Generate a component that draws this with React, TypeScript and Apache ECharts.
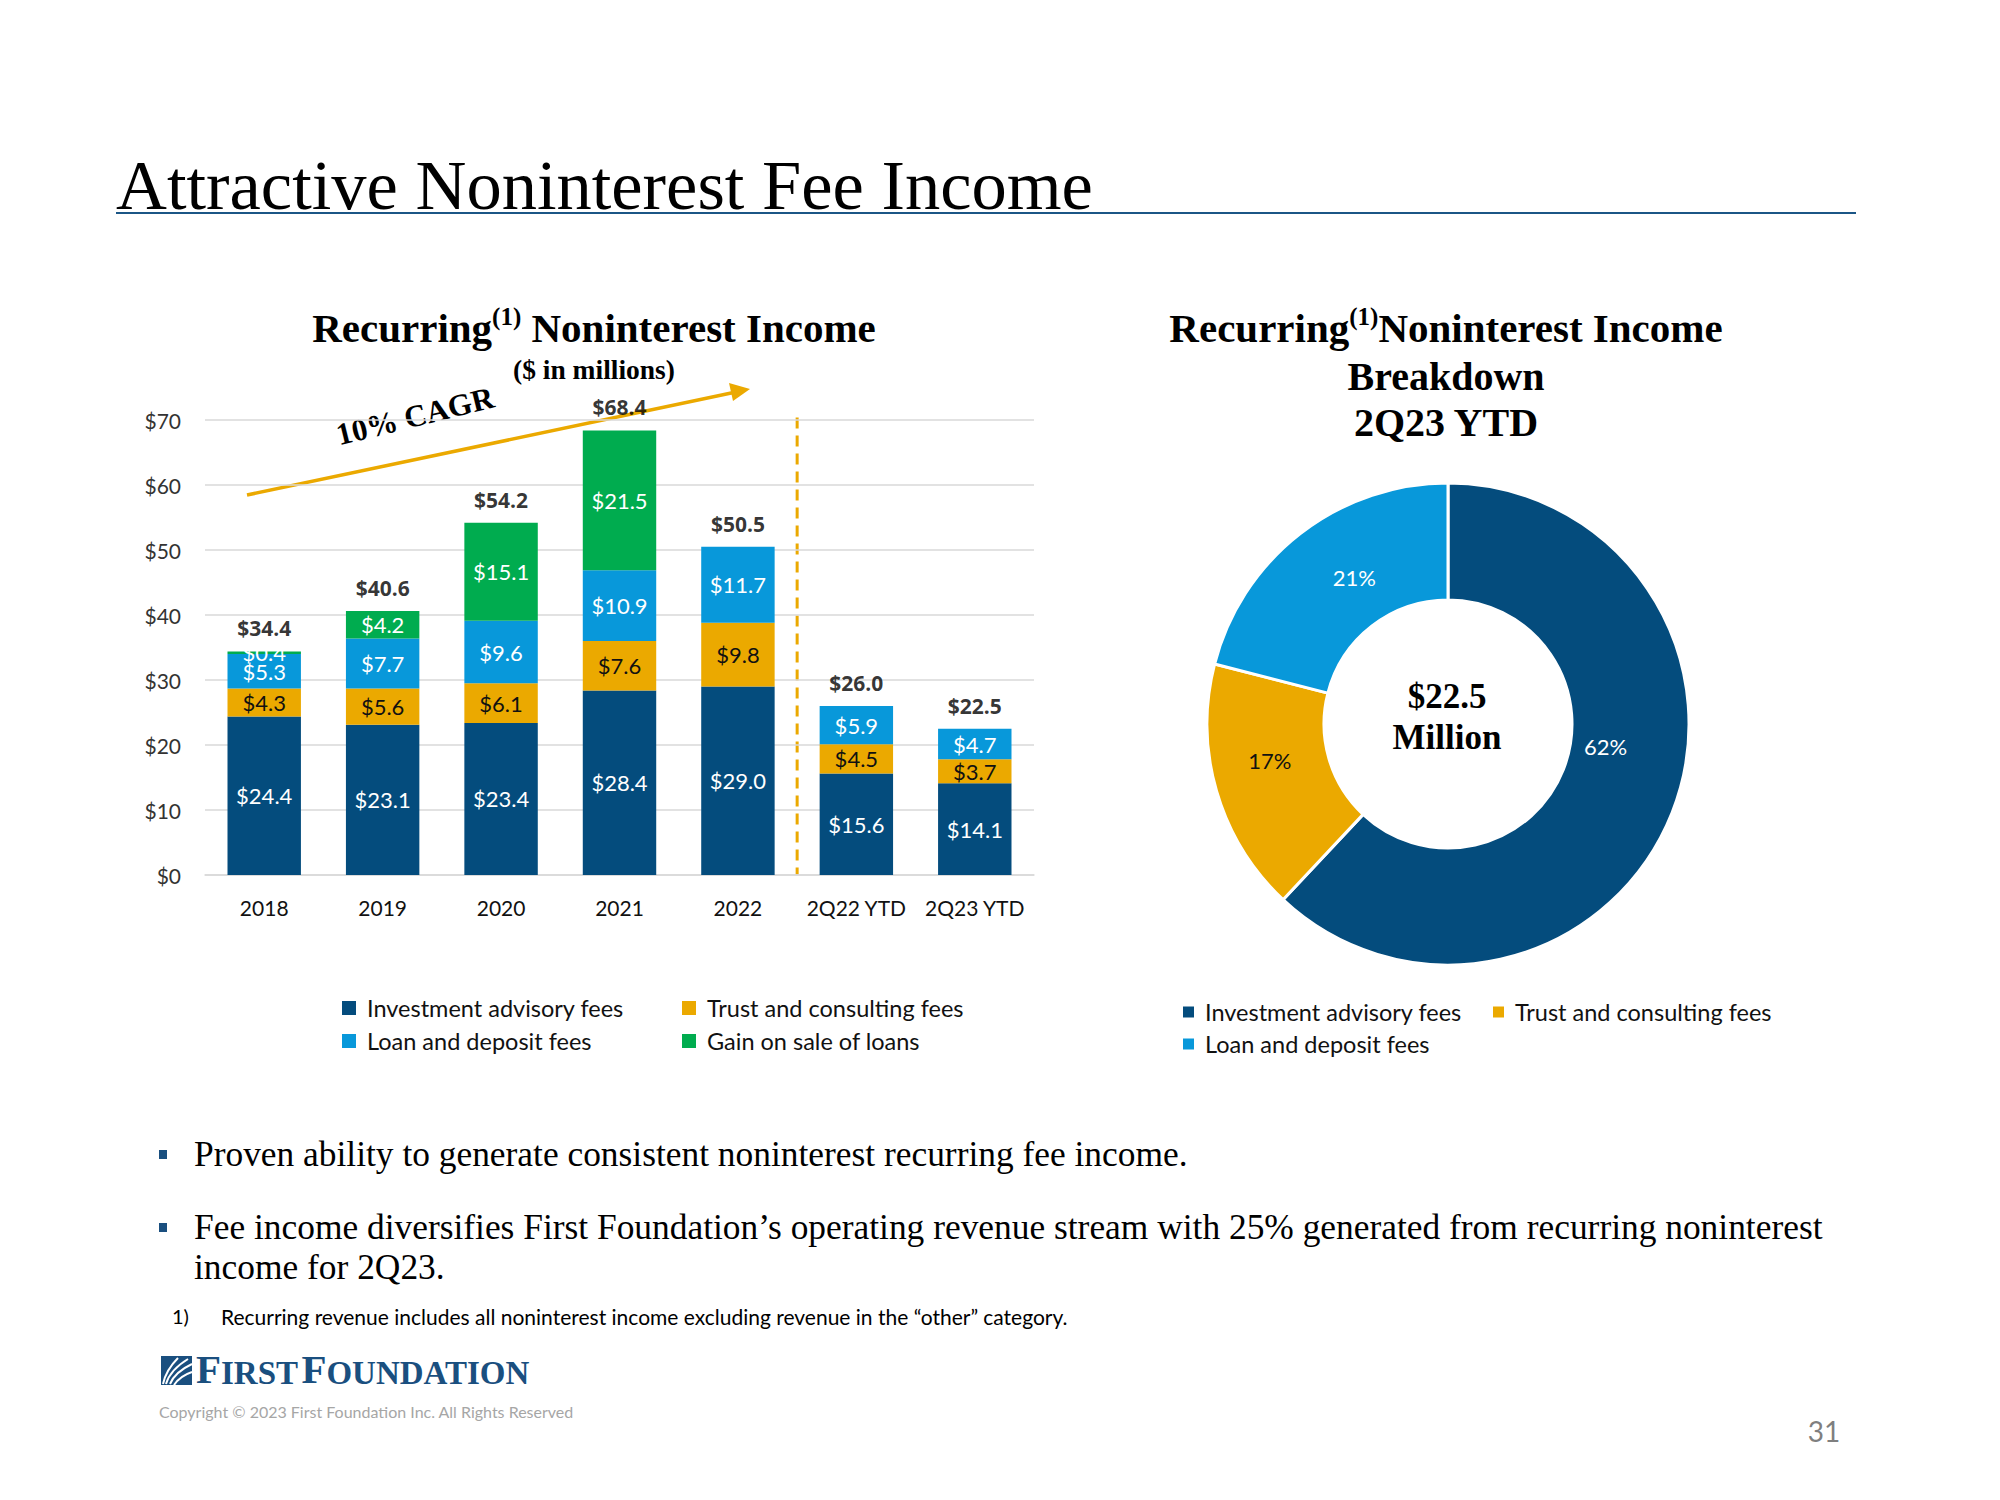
import React, { useEffect, useRef } from 'react';
import * as echarts from 'echarts';

// ---------- data ----------
const categories = ['2018', '2019', '2020', '2021', '2022', '2Q22 YTD', '2Q23 YTD'];
const investmentAdvisoryFees = [24.4, 23.1, 23.4, 28.4, 29.0, 15.6, 14.1];
const trustConsultingFees = [4.3, 5.6, 6.1, 7.6, 9.8, 4.5, 3.7];
const loanDepositFees = [5.3, 7.7, 9.6, 10.9, 11.7, 5.9, 4.7];
const gainOnSaleOfLoans = [0.4, 4.2, 15.1, 21.5, null, null, null];
const totals = [34.4, 40.6, 54.2, 68.4, 50.5, 26.0, 22.5];
const pieNames = ['Investment advisory fees', 'Trust and consulting fees', 'Loan and deposit fees'];
const pieShares = [62, 17, 21];
const pieCenterLines = ['$22.5', 'Million'];
const yMin = 0;
const yMax = 70;
const yStep = 10;

// ---------- style ----------
const C_DARK = '#044C7D';
const C_GOLD = '#EBA900';
const C_LIGHT = '#0898DA';
const C_GREEN = '#00AC4F';
const C_NAVY_TEXT = '#1A4F7F';
const SANS = 'Lato, "Open Sans", sans-serif';
const SANS_BOLD = '"Open Sans", "Noto Sans", sans-serif';
const SERIF = '"Liberation Serif", serif';

const money = (v: number) => '$' + Number(v).toFixed(1);

function buildOption() {
  const legendBase = {
    orient: 'horizontal',
    icon: 'rect',
    itemWidth: 14,
    itemHeight: 14,
    selectedMode: false,
    textStyle: { fontFamily: SANS, fontSize: 23.5, color: '#111', padding: [0, 0, 0, 6] },
  };
  const pieLegendBase = { ...legendBase, itemWidth: 11, itemHeight: 11 };

  const barLabel = (color: string) => ({
    show: true,
    position: 'inside',
    color,
    fontFamily: SANS,
    fontSize: 22,
    formatter: (p: any) => money(p.value),
  });

  const pieLabelShift = [
    { dx: -7.5, dy: -23 },
    { dx: 0, dy: -7.5 },
    { dx: 10, dy: 0 },
  ];

  return {
    animation: false,
    backgroundColor: '#ffffff',
    grid: { left: 205, right: 966, top: 420, bottom: 625, containLabel: false },
    xAxis: {
      type: 'category',
      data: categories,
      axisLine: { show: true, lineStyle: { color: '#D9D9D9', width: 1.5 } },
      axisTick: { show: false },
      axisLabel: { interval: 0, fontFamily: SANS, fontSize: 21, color: '#111', margin: 22 },
    },
    yAxis: {
      type: 'value',
      min: yMin,
      max: yMax,
      interval: yStep,
      axisLine: { show: false },
      axisTick: { show: false },
      splitLine: { lineStyle: { color: '#D9D9D9', width: 1.5 } },
      axisLabel: { fontFamily: SANS, fontSize: 21, color: '#333', margin: 24, formatter: (v: number) => '$' + v },
    },
    legend: [
      { ...legendBase, data: ['Investment advisory fees'], left: 337, top: 991 },
      { ...legendBase, data: ['Trust and consulting fees'], left: 677, top: 991 },
      { ...legendBase, data: ['Loan and deposit fees'], left: 337, top: 1024 },
      { ...legendBase, data: ['Gain on sale of loans'], left: 677, top: 1024 },
      { ...pieLegendBase, data: [pieNames[0]], left: 1178, top: 995 },
      { ...pieLegendBase, data: [pieNames[1]], left: 1488, top: 995 },
      { ...pieLegendBase, data: [pieNames[2]], left: 1178, top: 1027 },
    ],
    series: [
      {
        name: 'Investment advisory fees',
        type: 'bar',
        stack: 'fees',
        barWidth: '62%',
        data: investmentAdvisoryFees,
        itemStyle: { color: C_DARK },
        label: barLabel('#ffffff'),
      },
      {
        name: 'Trust and consulting fees',
        type: 'bar',
        stack: 'fees',
        data: trustConsultingFees,
        itemStyle: { color: C_GOLD },
        label: barLabel('#111111'),
      },
      {
        name: 'Loan and deposit fees',
        type: 'bar',
        stack: 'fees',
        data: loanDepositFees,
        itemStyle: { color: C_LIGHT },
        label: barLabel('#ffffff'),
      },
      {
        name: 'Gain on sale of loans',
        type: 'bar',
        stack: 'fees',
        data: gainOnSaleOfLoans,
        itemStyle: { color: C_GREEN },
        label: barLabel('#ffffff'),
      },
      {
        name: 'Total',
        type: 'scatter',
        data: totals,
        symbolSize: 1,
        silent: true,
        z: 10,
        itemStyle: { color: 'rgba(0,0,0,0)' },
        label: {
          show: true,
          position: 'top',
          distance: 12,
          fontFamily: SANS_BOLD,
          fontWeight: 'bold',
          fontSize: 21,
          color: '#000',
          formatter: (p: any) => money(p.value),
        },
      },
      {
        name: 'Breakdown',
        type: 'pie',
        center: [1448, 724],
        radius: [124, 241],
        startAngle: 90,
        clockwise: true,
        silent: true,
        itemStyle: { borderColor: '#ffffff', borderWidth: 3 },
        label: {
          show: true,
          position: 'inside',
          fontFamily: SANS,
          fontSize: 22,
          formatter: (p: any) => p.value + '%',
        },
        labelLine: { show: false },
        labelLayout: (params: any) => pieLabelShift[params.dataIndex] || {},
        data: pieNames.map((n, i) => ({
          name: n,
          value: pieShares[i],
          itemStyle: { color: [C_DARK, C_GOLD, C_LIGHT][i] },
          label: { color: i === 1 ? '#111111' : '#ffffff' },
        })),
      },
    ],
    graphic: [
      // page title
      {
        id: 'title', type: 'text', x: 116, y: 185,
        style: { text: 'Attractive Noninterest Fee Income', fontFamily: SERIF, fontSize: 70.5, fill: '#000', align: 'left', verticalAlign: 'middle' },
      },
      {
        id: 'titleRule', type: 'line', shape: { x1: 116, y1: 213, x2: 1856, y2: 213 },
        style: { stroke: '#1B5686', lineWidth: 2 },
      },
      // bar chart title
      {
        id: 'barTitle', type: 'text', x: 594, y: 328,
        style: {
          text: '{m|Recurring}{s|(1)}{m| Noninterest Income}',
          align: 'center', verticalAlign: 'middle',
          rich: {
            m: { fontFamily: SERIF, fontWeight: 'bold', fontSize: 41, fill: '#000', lineHeight: 48 },
            s: { fontFamily: SERIF, fontWeight: 'bold', fontSize: 25, fill: '#000', verticalAlign: 'top', lineHeight: 26 },
          },
        },
      },
      {
        id: 'barSub', type: 'text', x: 594, y: 369,
        style: { text: '($ in millions)', fontFamily: SERIF, fontWeight: 'bold', fontSize: 27.5, fill: '#000', align: 'center', verticalAlign: 'middle' },
      },
      // CAGR arrow
      {
        id: 'cagrLine', type: 'line', shape: { x1: 247, y1: 495, x2: 736, y2: 392 },
        style: { stroke: C_GOLD, lineWidth: 3.5 },
      },
      {
        id: 'cagrHead', type: 'polygon',
        shape: { points: [[750, 389], [733, 401], [729, 383]] },
        style: { fill: C_GOLD },
      },
      {
        id: 'cagrText', type: 'text', x: 415, y: 416, rotation: 0.24,
        style: { text: '10% CAGR', fontFamily: SERIF, fontWeight: 'bold', fontSize: 31, fill: '#000', align: 'center', verticalAlign: 'middle' },
      },
      // pie title
      {
        id: 'pieTitle1', type: 'text', x: 1446, y: 328,
        style: {
          text: '{m|Recurring}{s|(1)}{m|Noninterest Income}',
          align: 'center', verticalAlign: 'middle',
          rich: {
            m: { fontFamily: SERIF, fontWeight: 'bold', fontSize: 41, fill: '#000', lineHeight: 48 },
            s: { fontFamily: SERIF, fontWeight: 'bold', fontSize: 25, fill: '#000', verticalAlign: 'top', lineHeight: 26 },
          },
        },
      },
      {
        id: 'pieTitle2', type: 'text', x: 1446, y: 376,
        style: { text: 'Breakdown', fontFamily: SERIF, fontWeight: 'bold', fontSize: 40, fill: '#000', align: 'center', verticalAlign: 'middle' },
      },
      {
        id: 'pieTitle3', type: 'text', x: 1446, y: 422,
        style: { text: '2Q23 YTD', fontFamily: SERIF, fontWeight: 'bold', fontSize: 40, fill: '#000', align: 'center', verticalAlign: 'middle' },
      },
      // pie centre
      {
        id: 'pieC1', type: 'text', x: 1447, y: 696,
        style: { text: pieCenterLines[0], fontFamily: SERIF, fontWeight: 'bold', fontSize: 35, fill: '#000', align: 'center', verticalAlign: 'middle' },
      },
      {
        id: 'pieC2', type: 'text', x: 1447, y: 737,
        style: { text: pieCenterLines[1], fontFamily: SERIF, fontWeight: 'bold', fontSize: 35, fill: '#000', align: 'center', verticalAlign: 'middle' },
      },
      // bullets
      { id: 'b1', type: 'rect', shape: { x: 159, y: 1150, width: 8, height: 9 }, style: { fill: C_NAVY_TEXT } },
      {
        id: 'b1t', type: 'text', x: 194, y: 1154,
        style: { text: 'Proven ability to generate consistent noninterest recurring fee income.', fontFamily: SERIF, fontSize: 35.4, fill: '#000', align: 'left', verticalAlign: 'middle' },
      },
      { id: 'b2', type: 'rect', shape: { x: 159, y: 1223, width: 8, height: 9 }, style: { fill: C_NAVY_TEXT } },
      {
        id: 'b2t', type: 'text', x: 194, y: 1227,
        style: { text: 'Fee income diversifies First Foundation’s operating revenue stream with 25% generated from recurring noninterest', fontFamily: SERIF, fontSize: 35.4, fill: '#000', align: 'left', verticalAlign: 'middle' },
      },
      {
        id: 'b2t2', type: 'text', x: 194, y: 1267,
        style: { text: 'income for 2Q23.', fontFamily: SERIF, fontSize: 35.4, fill: '#000', align: 'left', verticalAlign: 'middle' },
      },
      // footnote
      {
        id: 'fn1', type: 'text', x: 172, y: 1316,
        style: { text: '1)', fontFamily: SANS, fontSize: 20, fill: '#000', align: 'left', verticalAlign: 'middle' },
      },
      {
        id: 'fn2', type: 'text', x: 221, y: 1316,
        style: { text: 'Recurring revenue includes all noninterest income excluding revenue in the “other” category.', fontFamily: SANS, fontSize: 21, fill: '#000', align: 'left', verticalAlign: 'middle' },
      },
      // logo
      { id: 'logoBox', type: 'rect', shape: { x: 161, y: 1356, width: 31, height: 29 }, style: { fill: C_NAVY_TEXT } },
      { id: 'sw1', type: 'bezierCurve', shape: { x1: 163, y1: 1384, cpx1: 166, cpy1: 1370, x2: 178, y2: 1358 }, style: { stroke: '#fff', lineWidth: 2, fill: 'none' } },
      { id: 'sw2', type: 'bezierCurve', shape: { x1: 166, y1: 1384, cpx1: 170, cpy1: 1370, x2: 188, y2: 1359 }, style: { stroke: '#fff', lineWidth: 2, fill: 'none' } },
      { id: 'sw3', type: 'bezierCurve', shape: { x1: 170, y1: 1384, cpx1: 175, cpy1: 1372, x2: 192, y2: 1364 }, style: { stroke: '#fff', lineWidth: 2, fill: 'none' } },
      { id: 'sw4', type: 'bezierCurve', shape: { x1: 174, y1: 1385, cpx1: 180, cpy1: 1376, x2: 192, y2: 1372 }, style: { stroke: '#fff', lineWidth: 2, fill: 'none' } },
      {
        id: 'logoText', type: 'text', x: 196, y: 1368,
        style: {
          text: '{b|F}{s|IRST} {b|F}{s|OUNDATION}',
          align: 'left', verticalAlign: 'middle',
          rich: {
            b: { fontFamily: SERIF, fontWeight: 'bold', fontSize: 41, fill: C_NAVY_TEXT, lineHeight: 42, verticalAlign: 'bottom' },
            s: { fontFamily: SERIF, fontWeight: 'bold', fontSize: 33, fill: C_NAVY_TEXT, lineHeight: 34, verticalAlign: 'bottom' },
          },
        },
      },
      {
        id: 'copy', type: 'text', x: 159, y: 1411,
        style: { text: 'Copyright © 2023 First Foundation Inc. All Rights Reserved', fontFamily: SANS, fontSize: 16, fill: '#A6A6A6', align: 'left', verticalAlign: 'middle' },
      },
      {
        id: 'page', type: 'text', x: 1824, y: 1431,
        style: { text: '31', fontFamily: SANS, fontSize: 28, fill: '#7F7F7F', align: 'center', verticalAlign: 'middle' },
      },
    ],
  };
}

export default function App() {
  const ref = useRef<HTMLDivElement>(null);
  useEffect(() => {
    if (!ref.current) return;
    const chart = echarts.init(ref.current, undefined, { renderer: 'svg' });
    chart.setOption(buildOption() as any);
    const xa = chart.convertToPixel({ xAxisIndex: 0 }, categories[4]) as number;
    const xb = chart.convertToPixel({ xAxisIndex: 0 }, categories[5]) as number;
    const yTop = chart.convertToPixel({ yAxisIndex: 0 }, 70.4) as number;
    const yBot = chart.convertToPixel({ yAxisIndex: 0 }, 0) as number;
    const xd = (xa + xb) / 2;
    chart.setOption({
      graphic: [
        {
          id: 'divider', type: 'line',
          shape: { x1: xd, y1: yTop, x2: xd, y2: yBot },
          style: { stroke: C_GOLD, lineWidth: 3, lineDash: [11, 7] },
        },
      ],
    } as any);
    return () => chart.dispose();
  }, []);
  return (
    <div
      ref={ref}
      style={{ position: 'absolute', left: 0, top: 0, width: 2000, height: 1500, background: '#fff' }}
    />
  );
}
